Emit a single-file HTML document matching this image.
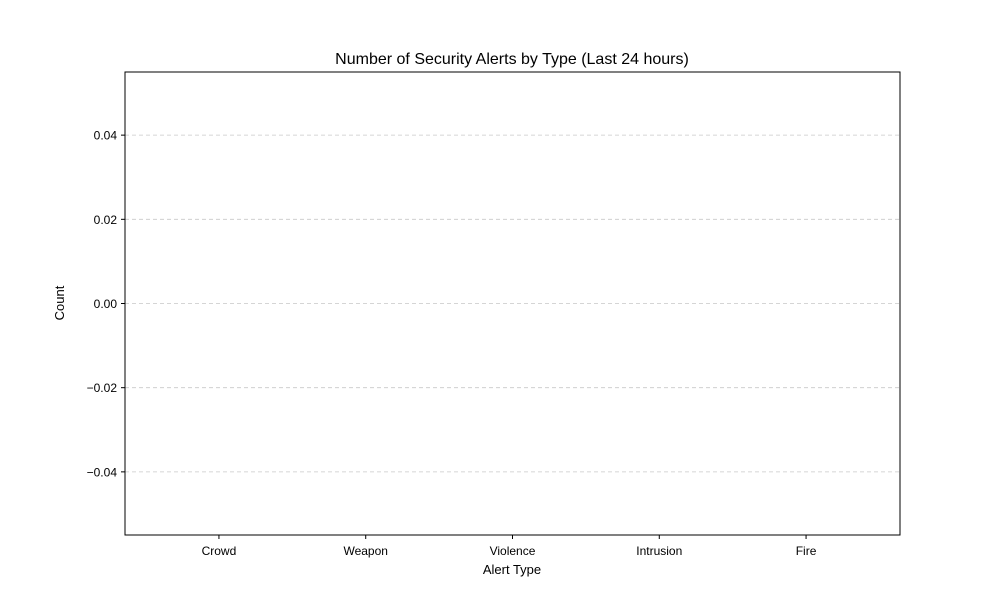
<!DOCTYPE html>
<html>
<head>
<meta charset="utf-8">
<style>
  html, body { margin: 0; padding: 0; background: #fff; }
  svg { display: block; font-family: "Liberation Sans", "DejaVu Sans", sans-serif; }
</style>
</head>
<body>
<svg id="chart" width="1000" height="600" viewBox="0 0 1000 600" xmlns="http://www.w3.org/2000/svg">
  <rect width="1000" height="600" fill="#fff"/>
  <g id="grid"></g>
  <g id="bars"></g>
  <rect x="125" y="72" width="775" height="463" fill="none" stroke="#000" stroke-width="1"/>
  <g id="yticks"></g>
  <g id="xticks"></g>
  <text x="512" y="64" text-anchor="middle" font-size="16">Number of Security Alerts by Type (Last 24 hours)</text>
  <text x="512" y="574" text-anchor="middle" font-size="13">Alert Type</text>
  <text transform="translate(64,303) rotate(-90)" text-anchor="middle" font-size="13">Count</text>
</svg>
<script>
const categories = ["Crowd", "Weapon", "Violence", "Intrusion", "Fire"];
const counts = [0, 0, 0, 0, 0];
const yTicks = [0.04, 0.02, 0.00, -0.02, -0.04];
const yTickLabels = ["0.04", "0.02", "0.00", "\u22120.02", "\u22120.04"];

const NS = "http://www.w3.org/2000/svg";
const plot = { left: 125, right: 900, top: 72, bottom: 535 };
const yMin = -0.055, yMax = 0.055;
const xMin = -0.64, xMax = categories.length - 1 + 0.64;
function yScale(v) { return plot.bottom - (v - yMin) / (yMax - yMin) * (plot.bottom - plot.top); }
function xScale(i) { return plot.left + (i - xMin) / (xMax - xMin) * (plot.right - plot.left); }
function mk(tag, attrs, parent) {
  const e = document.createElementNS(NS, tag);
  for (const k in attrs) e.setAttribute(k, attrs[k]);
  parent.appendChild(e);
  return e;
}
const grid = document.getElementById("grid");
const yg = document.getElementById("yticks");
const xg = document.getElementById("xticks");
const barsG = document.getElementById("bars");

yTicks.forEach((v, i) => {
  const y = yScale(v);
  const gl = mk("line", { x1: plot.left, x2: plot.right, y1: y, y2: y, stroke: "#c8c8c8", "stroke-width": 0.8, "stroke-dasharray": "4,3" }, grid);
  
  
  const t = mk("line", { x1: plot.left - 4, x2: plot.left, y1: y, y2: y, stroke: "#000", "stroke-width": 1 }, yg);
  
  
  const lb = mk("text", { x: plot.left - 8, y: y + 4.5, "text-anchor": "end", "font-size": 12 }, yg);
  lb.textContent = yTickLabels[i];
  
  
});

categories.forEach((c, i) => {
  const x = xScale(i);
  const t = mk("line", { x1: x, x2: x, y1: plot.bottom, y2: plot.bottom + 4, stroke: "#000", "stroke-width": 1 }, xg);
  
  
  const lb = mk("text", { x: x, y: plot.bottom + 20, "text-anchor": "middle", "font-size": 12 }, xg);
  lb.textContent = c;
  
  
  const bw = 0.8 * (xScale(1) - xScale(0));
  const y0 = yScale(0), y1 = yScale(counts[i]);
  const bar = mk("rect", { x: x - bw / 2, y: Math.min(y0, y1), width: bw, height: Math.abs(y0 - y1), fill: "#d9534f" }, barsG);
  
  
});
</script>
</body>
</html>
